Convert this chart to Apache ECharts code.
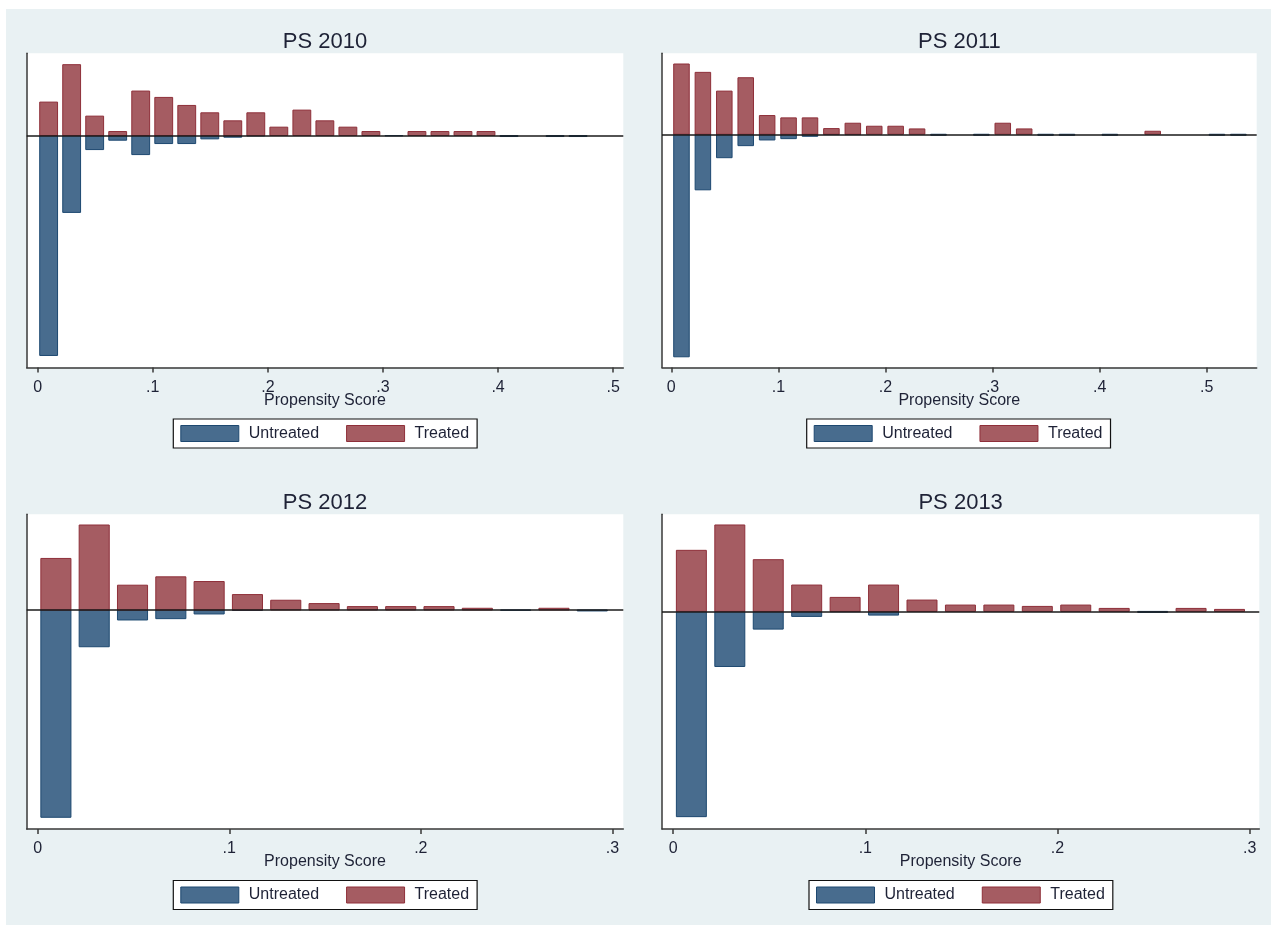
<!DOCTYPE html>
<html>
<head>
<meta charset="utf-8">
<title>Propensity Score distributions</title>
<script src="https://cdn.jsdelivr.net/npm/echarts@6/dist/echarts.min.js"></script>
<style>
  html, body { margin: 0; padding: 0; background: #ffffff; }
  #frame { position: absolute; left: 6px; top: 9px; width: 1265px; height: 916px; background: #e9f1f3; }
  #chart { position: absolute; left: 0; top: 0; width: 1274px; height: 927px; }
</style>
</head>
<body>
<div id="frame"></div>
<div id="chart"></div>
<script>
// Histogram bin midpoints on the propensity score scale
const binMid = [0.0095, 0.0295, 0.0495, 0.0695, 0.0895, 0.1095, 0.1295, 0.1495, 0.1695,
  0.1895, 0.2095, 0.2295, 0.2495, 0.2695, 0.2895, 0.3095, 0.3295, 0.3495, 0.3695,
  0.3895, 0.4095, 0.4295, 0.4495, 0.4695, 0.4895, 0.5095, 0.5295];

// Bar heights (density) per bin; untreated drawn below the zero line
const treated2010   = [10.0, 21.2, 5.8, 1.2, 13.3, 11.4, 9.0, 6.8, 4.4, 6.8, 2.5, 7.6, 4.4, 2.5, 1.2, 0, 1.2, 1.2, 1.2, 1.2, 0, 0, 0, 0];
const untreated2010 = [65.8, 23.0, 4.2, 1.4, 5.7, 2.4, 2.4, 1.0, 0.5, 0.1, 0, 0, 0, 0, 0, 0.1, 0, 0, 0, 0, 0.3, 0, 0.3, 0.3];

const treated2011   = [21.0, 18.5, 12.9, 16.9, 5.6, 4.9, 4.9, 1.7, 3.3, 2.4, 2.4, 1.6, 0, 0, 0, 3.3, 1.6, 0, 0, 0, 0, 0, 0.9, 0, 0, 0, 0];
const untreated2011 = [66.5, 16.6, 7.0, 3.4, 1.7, 1.3, 0.6, 0.1, 0.1, 0, 0, 0, 0.3, 0, 0.3, 0, 0, 0.3, 0.3, 0, 0.3, 0, 0, 0, 0, 0.3, 0.3];

const treated2012   = [15.4, 25.4, 7.4, 9.9, 8.5, 4.6, 2.9, 1.9, 1.0, 1.0, 1.0, 0.5, 0, 0.5, 0];
const untreated2012 = [62.0, 11.0, 3.0, 2.6, 1.2, 0.1, 0, 0, 0, 0, 0, 0, 0.1, 0, 0.3];

const treated2013   = [18.3, 25.9, 15.5, 7.9, 4.2, 7.9, 3.4, 1.9, 1.9, 1.5, 1.9, 0.9, 0, 0.9, 0.6];
const untreated2013 = [61.5, 16.5, 5.3, 1.5, 0.1, 1.1, 0, 0, 0, 0, 0, 0, 0.3, 0, 0];

// Axis tick values and their labels
const ticksWide   = [0, 0.1, 0.2, 0.3, 0.4, 0.5];
const ticksNarrow = [0, 0.1, 0.2, 0.3];
const tickLabel = { 0: '0', 0.1: '.1', 0.2: '.2', 0.3: '.3', 0.4: '.4', 0.5: '.5' };

const panelTitles = ['PS 2010', 'PS 2011', 'PS 2012', 'PS 2013'];
const seriesNames = ['Untreated', 'Treated'];
const axisTitle = 'Propensity Score';

const FONT = '"Liberation Sans", Arial, sans-serif';
const TEXT = '#1e2236';
const AXIS = '#383838';
const COLORS = {
  Untreated: { fill: '#486c8e', stroke: '#1d4870' },
  Treated:   { fill: '#a55c62', stroke: '#8e2f39' }
};

// Layout of the four panels (pixels) and their axis ranges
const panels = [
  { title: panelTitles[0], treated: treated2010, untreated: untreated2010, ticks: ticksWide,
    grid: { left: 26.7, top: 53.3, width: 596.6, height: 314.2 },
    x: [-0.00956, 0.5088], y: [-69.4, 24.6], barW: 0.0155, legendLeft: 173.3, legendTop: 419 },
  { title: panelTitles[1], treated: treated2011, untreated: untreated2011, ticks: ticksWide,
    grid: { left: 662, top: 53.3, width: 594.7, height: 314.2 },
    x: [-0.00868, 0.5466], y: [-69.7, 24.2], barW: 0.0145, legendLeft: 806.7, legendTop: 419 },
  { title: panelTitles[2], treated: treated2012, untreated: untreated2012, ticks: ticksNarrow,
    grid: { left: 26.7, top: 514.3, width: 596.6, height: 314.7 },
    x: [-0.00574, 0.3057], y: [-65.5, 28.6], barW: 0.0157, legendLeft: 173.3, legendTop: 880.5 },
  { title: panelTitles[3], treated: treated2013, untreated: untreated2013, ticks: ticksNarrow,
    grid: { left: 662, top: 514.3, width: 597.3, height: 314.7 },
    x: [-0.00578, 0.3050], y: [-65.2, 29.1], barW: 0.0156, legendLeft: 809, legendTop: 880.5 }
];

function barRenderer(halfWidth, name) {
  return function (params, api) {
    const x = api.value(0), v = api.value(1);
    const a = api.coord([x - halfWidth, 0]);
    const b = api.coord([x + halfWidth, v]);
    return {
      type: 'rect',
      shape: { x: a[0], y: Math.min(a[1], b[1]), width: b[0] - a[0], height: Math.abs(b[1] - a[1]) },
      style: { fill: COLORS[name].fill, stroke: COLORS[name].stroke, lineWidth: 1 }
    };
  };
}

function toPoints(values, sign) {
  const out = [];
  values.forEach((v, i) => { if (v > 0) out.push([binMid[i], sign * v]); });
  return out;
}

const option = {
  animation: false,
  textStyle: { fontFamily: FONT },
  grid: [], xAxis: [], yAxis: [], series: [], legend: [], graphic: []
};

panels.forEach((p, i) => {
  option.grid.push(Object.assign({ show: true, backgroundColor: '#ffffff', borderWidth: 0, containLabel: false }, p.grid));
  option.xAxis.push({
    type: 'value', gridIndex: i, min: p.x[0], max: p.x[1],
    name: axisTitle, nameLocation: 'middle', nameGap: 25, nameMoveOverlap: false,
    nameTextStyle: { fontFamily: FONT, fontSize: 16, color: TEXT },
    axisLine: { show: true, onZero: false, lineStyle: { color: AXIS, width: 1.5 } },
    axisTick: { show: true, inside: false, length: 5, customValues: p.ticks, lineStyle: { color: AXIS, width: 1.5 } },
    axisLabel: { show: true, margin: 12, customValues: p.ticks, fontFamily: FONT, fontSize: 16, color: TEXT,
      formatter: v => tickLabel[Math.round(v * 10) / 10] },
    splitLine: { show: false }
  });
  option.yAxis.push({
    type: 'value', gridIndex: i, min: p.y[0], max: p.y[1],
    axisLine: { show: true, onZero: false, lineStyle: { color: AXIS, width: 1.5 } },
    axisTick: { show: false }, axisLabel: { show: false }, splitLine: { show: false }
  });
  option.series.push({
    type: 'custom', name: seriesNames[0], xAxisIndex: i, yAxisIndex: i,
    renderItem: barRenderer(p.barW / 2, seriesNames[0]),
    itemStyle: { color: COLORS.Untreated.fill },
    data: toPoints(p.untreated, -1), silent: true
  });
  option.series.push({
    type: 'custom', name: seriesNames[1], xAxisIndex: i, yAxisIndex: i,
    renderItem: barRenderer(p.barW / 2, seriesNames[1]),
    itemStyle: { color: COLORS.Treated.fill },
    data: toPoints(p.treated, 1), silent: true,
    markLine: {
      silent: true, symbol: ['none', 'none'], label: { show: false },
      lineStyle: { color: '#1a1a1a', width: 1.5, type: 'solid' },
      data: [{ yAxis: 0 }]
    }
  });
  option.legend.push({
    left: p.legendLeft, top: p.legendTop, orient: 'horizontal',
    backgroundColor: '#ffffff', borderColor: '#111111', borderWidth: 1.2, borderRadius: 0,
    padding: [6, 8, 6, 7], itemWidth: 58, itemHeight: 16, itemGap: 27,
    selectedMode: false,
    textStyle: { fontFamily: FONT, fontSize: 16, color: TEXT, padding: [0, 0, 0, 5] },
    data: seriesNames.map(n => ({ name: n, icon: 'rect',
      itemStyle: { color: COLORS[n].fill, borderColor: COLORS[n].stroke, borderWidth: 1 } }))
  });
  option.graphic.push({
    type: 'text', x: p.grid.left + p.grid.width / 2, y: p.grid.top - 11.5,
    style: { text: p.title, font: '22px ' + FONT, fill: TEXT, align: 'center', verticalAlign: 'middle' }
  });
});

const chart = echarts.init(document.getElementById('chart'), null, { renderer: 'canvas' });
chart.setOption(option);
</script>
</body>
</html>
